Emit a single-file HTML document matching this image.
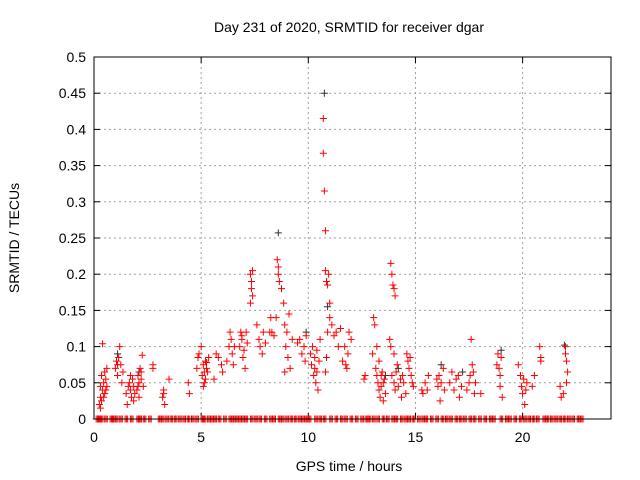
<!DOCTYPE html>
<html><head><meta charset="utf-8"><style>
body{margin:0;background:#fff}
svg{display:block;font-family:"Liberation Sans",sans-serif}
</style></head><body>
<svg id="chart" width="640" height="480">
<text x="349" y="32" font-size="14" text-anchor="middle">Day 231 of 2020, SRMTID for receiver dgar</text>
<text x="0" y="0" font-size="14" text-anchor="middle" transform="translate(19,238) rotate(-90)">SRMTID / TECUs</text>
<text x="349" y="471" font-size="14" text-anchor="middle">GPS time / hours</text>
<g id="grid"></g><g id="ticks"></g><g id="marks"></g>
<rect x="94" y="57" width="517" height="362" fill="none" stroke="#000" stroke-width="1"/>
</svg>
<script>
const xTicks=[0,5,10,15,20];
const yTicks=[0,0.05,0.1,0.15,0.2,0.25,0.3,0.35,0.4,0.45,0.5];
const yTickLabels=["0","0.05","0.1","0.15","0.2","0.25","0.3","0.35","0.4","0.45","0.5"];
const redSeries=[
[0.25,0.02],[0.3,0.03],[0.3,0.045],[0.35,0.06],[0.4,0.104],[0.4,0.04],[0.45,0.05],[0.5,0.065],[0.5,0.035],[0.55,0.055],[0.6,0.07],[0.6,0.045],[0.3,0.015],[0.35,0.025],[0.45,0.03],[0.55,0.04],
[1.0,0.07],[1.05,0.08],[1.1,0.06],[1.15,0.085],[1.2,0.1],[1.25,0.075],[1.3,0.05],[1.35,0.065],[1.1,0.075],
[1.5,0.035],[1.55,0.02],[1.6,0.045],[1.65,0.05],[1.7,0.04],[1.75,0.03],[1.8,0.055],[1.85,0.045],[1.9,0.035],[1.7,0.06],[1.85,0.025],
[2.0,0.04],[2.05,0.06],[2.1,0.05],[2.1,0.03],[2.15,0.07],[2.2,0.055],[2.25,0.088],[2.3,0.045],[2.05,0.045],[2.2,0.065],
[2.75,0.075],[2.75,0.07],[3.2,0.03],[3.25,0.04],[3.3,0.02],[3.25,0.035],[3.5,0.055],[4.4,0.05],[4.45,0.035],
[4.8,0.07],[4.85,0.085],[4.9,0.09],[5.0,0.1],[5.05,0.06],[5.1,0.075],[5.15,0.05],[5.2,0.08],[5.25,0.07],[5.3,0.065],[5.35,0.085],[5.1,0.045],[5.15,0.065],[5.2,0.055],[5.25,0.078],
[5.6,0.055],[5.7,0.09],[5.8,0.085],[5.95,0.075],[6.0,0.065],
[6.2,0.08],[6.3,0.1],[6.35,0.12],[6.4,0.11],[6.45,0.09],[6.5,0.075],[6.55,0.1],
[6.8,0.1],[6.85,0.12],[6.9,0.11],[6.95,0.085],[7.0,0.095],[7.05,0.07],[7.1,0.12],[7.15,0.105],[6.9,0.115],
[7.3,0.16],[7.3,0.2],[7.35,0.18],[7.35,0.19],[7.4,0.17],[7.4,0.205],
[7.6,0.13],[7.7,0.11],[7.75,0.1],[7.85,0.09],[7.9,0.12],[8.0,0.105],
[8.2,0.12],[8.25,0.14],[8.3,0.12],[8.4,0.115],[8.5,0.14],
[8.55,0.22],[8.6,0.21],[8.6,0.2],[8.65,0.19],[8.75,0.18],
[8.85,0.16],[8.9,0.13],[8.95,0.1],[9.0,0.12],[9.05,0.085],[9.1,0.145],[9.15,0.07],[9.25,0.11],[8.9,0.065],
[9.5,0.105],[9.6,0.11],[9.7,0.09],[9.8,0.1],[9.9,0.115],[9.85,0.08],
[10.1,0.09],[10.15,0.075],[10.2,0.1],[10.25,0.06],[10.3,0.085],[10.35,0.05],[10.4,0.065],[10.45,0.04],[10.5,0.08],[10.55,0.11],[10.3,0.07],[10.4,0.095],
[10.7,0.415],[10.7,0.367],[10.75,0.315],[10.8,0.26],
[10.8,0.205],[10.85,0.19],[10.9,0.185],[10.95,0.2],[11.0,0.16],[11.0,0.14],[10.9,0.12],[10.85,0.085],[10.8,0.065],
[11.1,0.13],[11.2,0.115],[11.3,0.12],[11.4,0.1],[11.5,0.125],
[11.6,0.08],[11.7,0.1],[11.8,0.07],[11.85,0.09],[11.9,0.12],[12.0,0.11],[11.75,0.075],
[12.6,0.055],[12.65,0.06],
[13.0,0.09],[13.05,0.14],[13.1,0.13],[13.15,0.07],[13.2,0.06],[13.25,0.05],[13.3,0.04],[13.35,0.03],[13.4,0.045],[13.45,0.065],[13.5,0.025],[13.55,0.055],[13.6,0.035],[13.3,0.08],[13.2,0.1],[13.4,0.06],[13.5,0.05],
[13.85,0.215],[13.9,0.2],[13.95,0.185],[14.0,0.18],[14.05,0.17],
[13.8,0.11],[13.85,0.1],[13.9,0.06],[14.0,0.05],[14.05,0.04],[14.1,0.065],[14.2,0.045],[14.3,0.055],[14.35,0.03],[14.45,0.05],[14.55,0.035],[14.0,0.09],[14.15,0.075],[14.4,0.06],
[14.6,0.09],[14.65,0.08],[14.7,0.07],[14.75,0.085],[14.8,0.06],[14.85,0.05],[14.9,0.045],
[15.3,0.04],[15.35,0.035],[15.45,0.05],[15.55,0.04],[15.6,0.06],
[16.0,0.055],[16.05,0.045],[16.1,0.06],[16.15,0.025],[16.2,0.05],[16.3,0.07],[16.35,0.04],
[16.6,0.05],[16.7,0.065],[16.8,0.04],[16.9,0.055],[17.0,0.06],[17.05,0.03],[17.15,0.045],
[17.4,0.04],[17.5,0.05],[17.55,0.06],[17.6,0.11],[17.65,0.075],[17.7,0.065],[17.75,0.035],[17.8,0.05],
[18.05,0.035],
[18.8,0.075],[18.85,0.09],[18.9,0.07],[18.95,0.06],[19.0,0.085],[19.05,0.03],[18.95,0.045],
[19.8,0.075],[19.9,0.06],[19.95,0.045],[20.0,0.035],[20.05,0.055],[20.1,0.02],[20.15,0.04],[20.2,0.05],
[20.45,0.045],[20.55,0.06],[20.8,0.1],[20.85,0.085],[20.85,0.08],
[21.75,0.045],[21.8,0.03],[21.9,0.035],[22.0,0.1],[22.0,0.09],[22.05,0.08],[22.1,0.065],[22.05,0.05]
];
const blackSeries=[[10.75,0.45],[8.6,0.257],[10.9,0.155],[13.6,0.06],[14.2,0.07],[16.2,0.075],[17.2,0.065],[19.0,0.095],[21.95,0.102],[1.1,0.09],[2.1,0.065],[9.9,0.12]];
const zeroHours=[0.1,0.2,0.3,0.5,0.75,0.85,1.0,1.2,1.45,1.7,2.0,2.1,2.3,2.55,3.0,3.15,3.35,3.55,3.75,3.95,4.15,4.35,4.55,4.75,5.0,5.1,5.3,5.45,5.6,5.8,6.05,6.3,6.45,6.6,6.75,6.9,7.05,7.3,7.5,7.7,7.95,8.2,8.35,8.6,8.75,8.95,9.15,9.35,9.55,9.7,9.85,10.0,10.3,10.5,10.7,11.0,11.25,11.5,11.7,11.95,12.2,12.45,12.65,12.8,13.0,13.2,13.45,13.65,13.9,14.05,14.3,14.5,14.65,14.85,15.1,15.3,15.45,15.7,15.95,16.2,16.4,16.6,16.85,17.05,17.25,17.5,17.7,17.95,18.2,18.45,18.6,18.95,19.2,19.35,19.6,19.85,20.05,20.25,20.45,20.65,20.95,21.1,21.3,21.5,21.7,21.9,22.1,22.3,22.55,22.7];
const NS="http://www.w3.org/2000/svg";
const X0=94,X1=611,XMAX=24.125,Y0=419,Y1=57,YMAX=0.5;
function xs(h){return X0+(X1-X0)*h/XMAX;}
function ys(v){return Y0-(Y0-Y1)*v/YMAX;}
function mk(tag,attrs,parent){const e=document.createElementNS(NS,tag);for(const k in attrs)e.setAttribute(k,attrs[k]);parent.appendChild(e);return e;}
const grid=document.getElementById('grid'),ticks=document.getElementById('ticks'),marks=document.getElementById('marks');
yTicks.forEach((v,i)=>{
  const y=ys(v);
  if(i>0&&i<yTicks.length-1){const g=mk('line',{x1:X0,x2:X1,y1:y,y2:y,stroke:'#a0a0a0','stroke-dasharray':'2,3'},grid);
  
  }
  mk('line',{x1:X0,x2:X0+6,y1:y,y2:y,stroke:'#000'},ticks);
  mk('line',{x1:X1,x2:X1-6,y1:y,y2:y,stroke:'#000'},ticks);
  const t=mk('text',{x:X0-8,y:y+5,'font-size':14,'text-anchor':'end'},ticks);t.textContent=yTickLabels[i];
  
  
});
xTicks.forEach(h=>{
  const x=xs(h);
  if(h>0){const g=mk('line',{x1:x,x2:x,y1:Y0,y2:Y1,stroke:'#a0a0a0','stroke-dasharray':'2,3'},grid);
  
  }
  mk('line',{x1:x,x2:x,y1:Y0,y2:Y0-6,stroke:'#000'},ticks);
  mk('line',{x1:x,x2:x,y1:Y1,y2:Y1+6,stroke:'#000'},ticks);
  const t=mk('text',{x:x,y:Y0+23,'font-size':14,'text-anchor':'middle'},ticks);t.textContent=String(h);
  
  
});
function plus(h,v,color,name){
  const x=xs(h),y=ys(v);
  const p=mk('path',{d:`M${x-3.5},${y}h7M${x},${y-3.5}v7`,stroke:color,'stroke-width':1,fill:'none'},marks);
  
  
}
blackSeries.forEach(d=>plus(d[0],d[1],'#333','black-point'));
redSeries.forEach(d=>plus(d[0],d[1],'#ff0000','red-point'));
zeroHours.forEach(h=>{plus(h,0,'#ff0000','zero-point');plus(h+0.06,0,'#ff0000','zero-point');plus(h+0.12,0,'#ff0000','zero-point');});
</script>
</body></html>
